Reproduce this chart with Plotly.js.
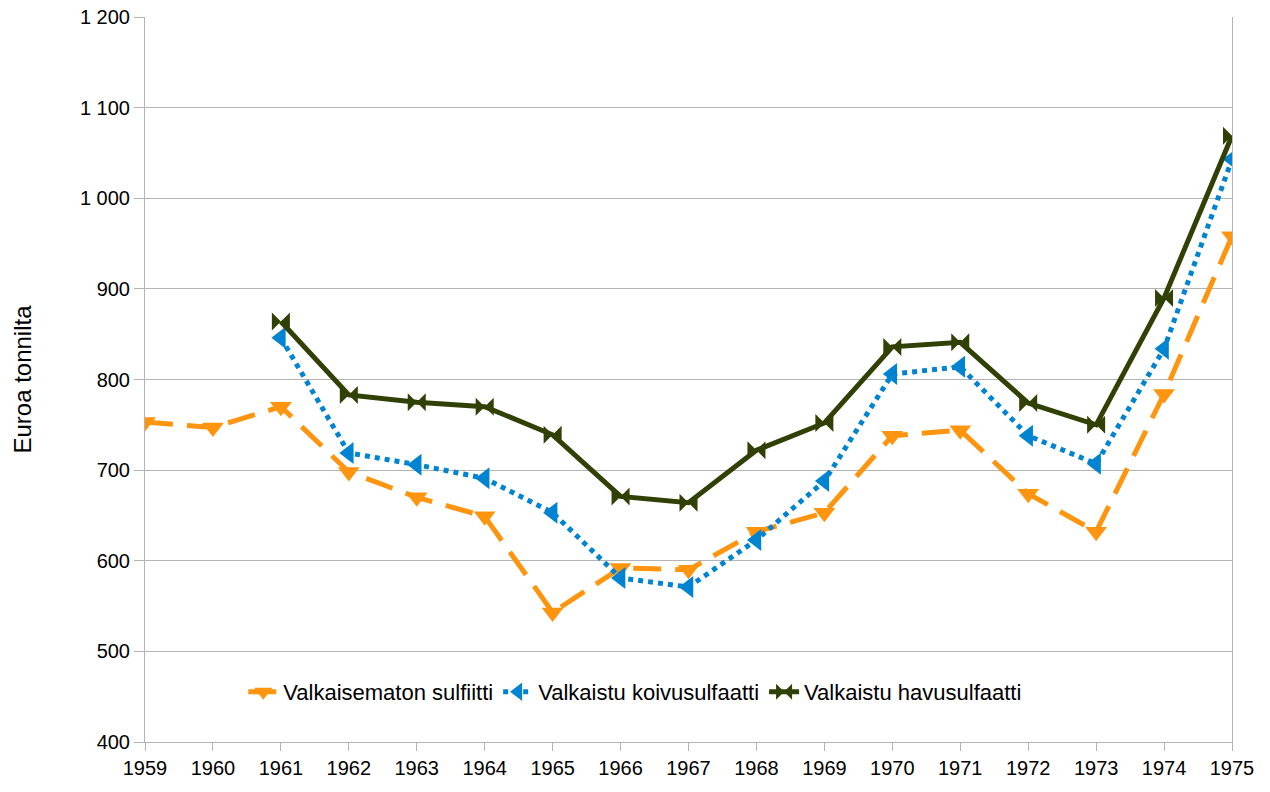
<!DOCTYPE html>
<html>
<head>
<meta charset="utf-8">
<script src="https://cdn.plot.ly/plotly-3.0.1.min.js"></script>
<style>html,body{margin:0;padding:0;background:#fff;}#chart{width:1270px;height:792px;}</style>
</head>
<body>
<div id="chart"></div>
<script>
const years = [1959,1960,1961,1962,1963,1964,1965,1966,1967,1968,1969,1970,1971,1972,1973,1974,1975];
const sulfiitti = [753,747,770,698,670,649,543,592,590,632,653,738,744,674,632,784,958];
const koivu = [null,null,846,719,706,691,653,581,571,623,688,806,814,738,707,834,1043];
const havu = [null,null,864,783,775,770,739,671,664,722,752,836,841,774,750,890,1069];
const names = ['Valkaisematon sulfiitti','Valkaistu koivusulfaatti','Valkaistu havusulfaatti'];

const traces = [
  {x: years, y: sulfiitti, name: names[0], mode: 'lines+markers',
   line: {color: '#ff950e', width: 5, dash: '28px,14px'},
   marker: {symbol: 'triangle-down', size: 19, color: '#ff950e'}},
  {x: years, y: koivu, name: names[1], mode: 'lines+markers',
   line: {color: '#0084d1', width: 5, dash: 'dot'},
   marker: {symbol: 'triangle-left', size: 19, color: '#0084d1'}},
  {x: years, y: havu, name: names[2], mode: 'lines+markers',
   line: {color: '#314004', width: 5},
   marker: {symbol: 'bowtie', size: 18, color: '#314004'}}
];

const layout = {
  width: 1270, height: 792,
  margin: {l: 145, r: 38, t: 17, b: 50},
  paper_bgcolor: '#fff', plot_bgcolor: '#fff',
  font: {family: 'Liberation Sans, Arial, sans-serif', size: 20, color: '#000'},
  separators: '. ',
  showlegend: true,
  legend: {orientation: 'h', x: 0.451, xanchor: 'center', y: 0.069, yanchor: 'middle',
           font: {size: 22}, bgcolor: 'rgba(0,0,0,0)', itemwidth: 30, tracegroupgap: 0},
  xaxis: {type: 'linear', range: [1959, 1975], tickvals: years, ticktext: years.map(String),
          showgrid: false, zeroline: false, showline: true, linecolor: '#b3b3b3', linewidth: 1,
          ticks: 'outside', ticklen: 8, tickcolor: '#b3b3b3', tickfont: {size: 20}},
  yaxis: {range: [400, 1200], dtick: 100, tick0: 400, separatethousands: true,
          showgrid: true, gridcolor: '#b3b3b3', gridwidth: 1, zeroline: false,
          showline: true, linecolor: '#b3b3b3', mirror: true,
          ticks: 'outside', ticklen: 10, tickcolor: '#b3b3b3', tickfont: {size: 20},
          title: {text: 'Euroa tonnilta', font: {size: 24}, standoff: 41}}
};

Plotly.newPlot('chart', traces, layout, {displayModeBar: false});
</script>
</body>
</html>
